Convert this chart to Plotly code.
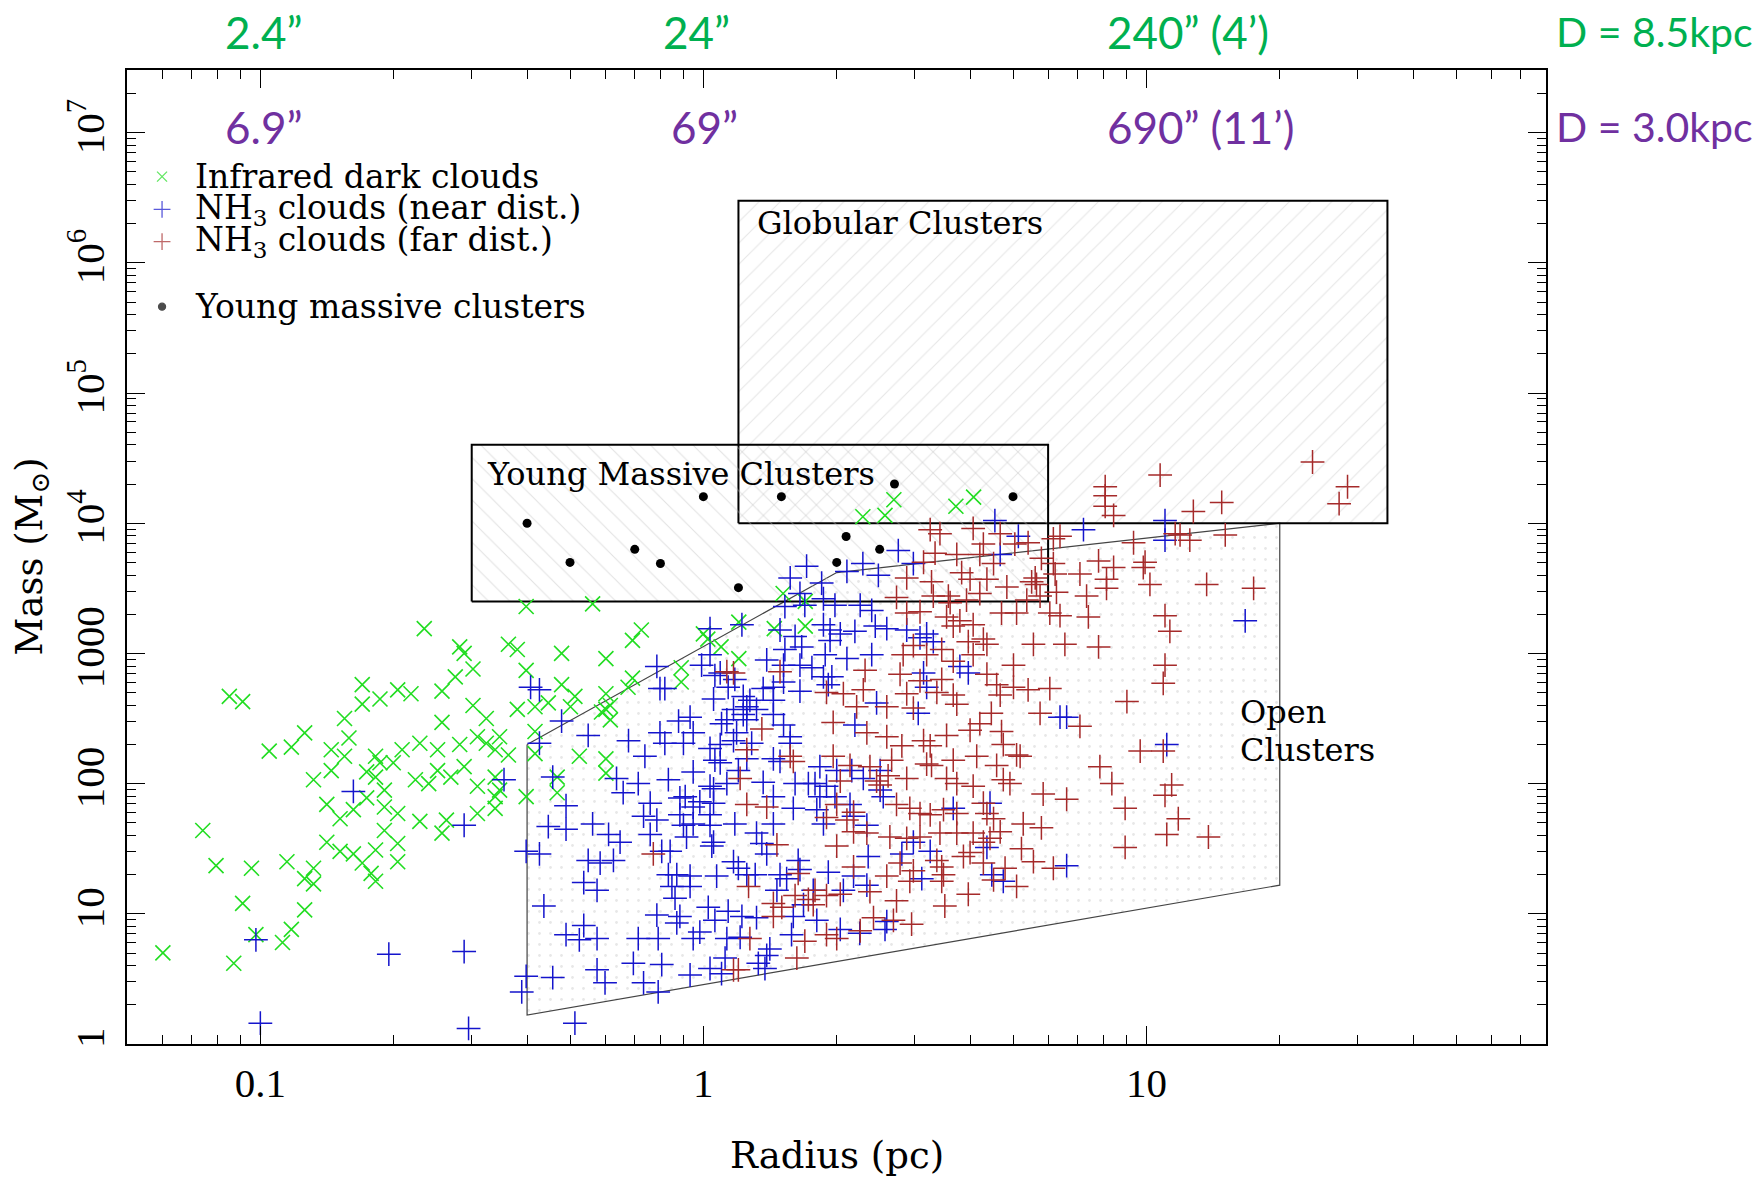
import numpy as np
import plotly.graph_objects as go

# ---------------- data (log10 radius [pc], log10 mass [Msun]) ----------------
irdc_log_radius = [
    -0.63, -0.55, -0.54, -0.44, -0.42, -0.32, -0.52, -0.56, -0.40, -0.77,
    -0.69, -0.66, -0.73, -0.59, -0.77, -0.52, -0.32, -0.42, -0.38, -0.35,
    -0.29, -0.30, -0.49, -0.59, -0.81, -0.80, -0.90, -0.98, -0.93, -0.84,
    -0.81, -0.88, -0.84, -0.74, -0.73, -0.70, -0.68, -0.64, -0.60, -0.55,
    -0.51, -0.49, -0.46, -0.47, -0.44, -0.38, -0.38, -0.28, -0.33, -0.76,
    -0.74, -0.72, -0.65, -0.62, -0.60, -0.57, -0.54, -0.51, -0.47, -0.46,
    -0.47, -0.40, -0.33, -0.85, -0.79, -0.76, -0.72, -0.69, -0.82, -0.64,
    -0.58, -0.59, -0.51, -0.47, -0.72, -0.69, -0.85, -0.82, -0.79, -0.77,
    -0.75, -0.74, -0.69, -0.74, -0.94, -0.88, -0.90, -0.88, -1.02, -1.10,
    -1.13, -1.07, -1.04, -1.04, -0.90, -0.93, -0.95, -1.01, -1.06, -1.22,
    -0.40, -0.25,
    -0.22, -0.16, -0.14, -0.22, -0.22, -0.21, -0.22, -0.22, -0.16, -0.17,
    -0.05, -0.05, 0.00, 0.01, 0.04, 0.08, 0.08, 0.18, 0.23, 0.23,
    0.16, -0.23, -0.21,
    0.43, 0.41, 0.36, 0.57, 0.61,
]
irdc_log_mass = [
    3.19, 3.05, 3.00, 3.07, 3.03, 3.00, 2.88, 2.82, 2.87, 2.76,
    2.72, 2.69, 2.65, 2.71, 2.61, 2.60, 2.76, 2.57, 2.59, 2.62,
    2.67, 2.59, 2.50, 2.47, 2.50, 2.35, 2.39, 2.25, 2.28, 2.26,
    2.21, 2.03, 2.10, 2.21, 2.16, 2.16, 2.26, 2.31, 2.26, 2.30,
    2.36, 2.31, 2.36, 2.26, 2.22, 2.40, 2.23, 2.21, 2.05, 2.09,
    2.05, 1.95, 2.03, 2.00, 2.10, 2.05, 2.13, 1.98, 2.05, 1.95,
    1.90, 1.90, 1.93, 1.84, 1.80, 1.89, 1.82, 1.77, 1.73, 1.71,
    1.72, 1.62, 1.77, 1.81, 1.64, 1.54, 1.55, 1.48, 1.46, 1.39,
    1.31, 1.25, 1.40, 1.49, 1.40, 1.35, 1.27, 1.23, 1.35, 1.37,
    1.64, 2.67, 2.63, 1.08, 1.03, 0.88, 0.78, 0.84, 0.62, 0.70,
    3.36, 3.38,
    2.96, 3.10, 3.18, 2.69, 2.57, 2.49, 2.19, 2.08, 2.81, 2.74,
    2.89, 2.78, 3.15, 3.11, 3.05, 3.24, 2.96, 3.46, 3.40, 3.21,
    3.19, 2.55, 2.60,
    4.18, 4.06, 4.05, 4.13, 4.20,
]

nh3_near_log_radius = [
    -0.79, -0.39, -0.37, -0.32, -0.26, -0.37, -0.45, -0.34, -0.54, -0.31,
    -0.35, -0.31, -0.25, -0.40, -0.37, -0.26, -0.27, -0.36, -0.31, -0.27,
    -0.28, -0.34, -0.40, -0.41, -0.29, -0.53, -1.00, -0.71, -0.54, -1.01,
    -0.24, -0.24, -0.24,
    0.233, 0.196, 0.267, 0.324, 0.360, 0.395, 0.440, 0.474, 0.218, 0.184,
    0.229, 0.271, 0.297, 0.354, 0.380, 0.271, 0.286, 0.309, 0.342, 0.388,
    0.414, 0.459, 0.504, 0.173, 0.087, 0.015, 0.207, 0.222, 0.286, 0.275,
    0.324, 0.380, 0.184, 0.143, -0.004, 0.015, 0.026, 0.038, 0.056, 0.071,
    0.181, 0.218, 0.245, 0.271, 0.290, 0.282, 0.181, 0.158, 0.135, 0.218,
    0.391, 0.497, 0.504, 0.485, 0.579, 0.598, 0.489, 0.519, -0.105, -0.098,
    -0.087, 0.023, 0.090, 0.105, 0.158, 0.068, 0.098, 0.120, 0.090, 0.158,
    -0.056, -0.030, 0.041, 0.053, 0.098, 0.181, 0.342, -0.098, -0.023, 0.075,
    0.196, -0.169, -0.087, -0.045, 0.015, 0.038, 0.109, 0.196, 0.068, -0.132,
    0.026, 0.038, 0.098, 0.158, 0.173, 0.263, -0.023, 0.079, 0.301, 0.335,
    0.399, -0.196, -0.147, -0.181, -0.079, 0.015, 0.023, 0.053, 0.135, 0.207,
    0.237, 0.252, 0.278, 0.361, -0.120, -0.053, -0.041, -0.008, 0.023, 0.158,
    0.263, 0.297, 0.406, 0.399, -0.135, -0.105, -0.053, -0.023, 0.015, 0.203,
    0.256, 0.331, 0.339, 0.564, -0.120, -0.045, -0.023, 0.015, 0.071, 0.158,
    0.271, 0.369, -0.188, -0.214, -0.038, 0.023, 0.120, 0.132, 0.474, -0.203,
    -0.094, -0.075, 0.019, 0.143, 0.372, 0.448, 0.512, -0.233, 0.068, 0.079,
    0.214, 0.218, -0.079, -0.060, -0.030, 0.030, 0.098, 0.117, 0.173, 0.188,
    0.282, 0.339, 0.493, -0.071, -0.030, 0.166, 0.248, 0.316, 0.369, -0.064,
    0.011, 0.226, -0.105, -0.053, -0.060, 0.026, 0.056, 0.087, 0.120, 0.203,
    0.256, 0.414, 0.410, -0.147, -0.102, -0.023, -0.008, 0.053, 0.083, 0.199,
    0.309, 0.150, 0.143, 0.049, -0.158, -0.094, -0.030, 0.015, 0.041, 0.124,
    0.139, -0.222, -0.135, -0.102,
    0.658, 0.711, 0.670, 0.858, 1.042, 1.042, 1.223, 0.805, 0.820, 1.046,
    0.647, 0.640, 0.820, 0.677, 0.651, 0.353,
]
nh3_near_log_mass = [
    1.94, 2.74, 2.72, 2.48, 2.37, 2.31, 2.03, 2.05, 1.68, 1.83,
    1.67, 1.65, 1.69, 1.48, 1.46, 1.41, 1.24, 1.06, 0.84, 0.91,
    0.80, 0.51, 0.52, 0.40, 0.16, 0.12, 0.16, 0.69, 0.71, 0.80,
    0.81, 0.57, 1.18,
    3.67, 3.58, 3.54, 3.63, 3.69, 3.60, 3.79, 3.69, 3.46, 3.36,
    3.37, 3.42, 3.37, 3.37, 3.33, 3.22, 3.18, 3.15, 3.17, 3.21,
    3.19, 3.18, 3.15, 3.18, 3.22, 3.19, 3.13, 3.05, 3.10, 2.99,
    2.96, 2.99, 3.03, 2.95, 2.91, 2.99, 2.83, 2.85, 2.74, 2.80,
    2.91, 2.91, 2.89, 2.82, 2.82, 2.76, 2.78, 2.74, 2.73, 2.71,
    2.62, 2.85, 2.74, 2.54, 2.90, 2.85, 3.12, 3.09, 2.90, 2.73,
    2.73, 2.65, 2.67, 2.64, 2.64, 2.57, 2.59, 2.57, 2.53, 2.53,
    2.48, 2.51, 2.46, 2.49, 2.49, 2.45, 2.45, 2.39, 2.39, 2.39,
    2.36, 2.33, 2.31, 2.31, 2.27, 2.30, 2.31, 2.31, 2.33, 2.21,
    2.18, 2.16, 2.19, 2.19, 2.17, 2.13, 2.09, 2.10, 2.10, 2.10,
    2.10, 2.04, 2.00, 1.93, 2.03, 1.98, 1.96, 2.00, 2.01, 2.00,
    2.00, 2.00, 1.98, 2.04, 1.85, 1.89, 1.90, 1.86, 1.85, 1.90,
    1.90, 1.90, 1.90, 1.95, 1.75, 1.72, 1.76, 1.82, 1.76, 1.81,
    1.80, 1.84, 1.75, 1.81, 1.61, 1.68, 1.69, 1.68, 1.69, 1.69,
    1.69, 1.68, 1.55, 1.61, 1.59, 1.55, 1.62, 1.54, 1.55, 1.41,
    1.48, 1.48, 1.52, 1.46, 1.44, 1.46, 1.48, 1.39, 1.40, 1.35,
    1.41, 1.34, 1.30, 1.30, 1.29, 1.29, 1.30, 1.30, 1.30, 1.27,
    1.32, 1.29, 1.27, 1.21, 1.21, 1.18, 1.18, 1.18, 1.22, 1.12,
    1.05, 1.07, 0.99, 0.98, 0.93, 0.95, 1.02, 0.98, 0.97, 0.98,
    0.95, 0.94, 0.88, 0.81, 0.81, 0.81, 0.86, 0.81, 0.82, 0.84,
    0.88, 0.73, 0.68, 0.66, 0.62, 0.61, 0.53, 0.58, 0.54, 0.62,
    0.58, 0.47, 0.47, 0.40,
    4.02, 3.90, 3.76, 3.95, 4.02, 3.87, 3.25, 2.51, 2.51, 2.30,
    1.85, 1.51, 1.37, 1.25, 1.30, 0.85,
]

nh3_far_log_radius = [
    0.053, 0.068, 0.173, 0.132, 0.098, 0.083, 0.196, 0.203, 0.098, 0.143,
    0.166, -0.113, 0.102, 0.158, 0.158, 0.177, 0.207, 0.248, 0.105, 0.068,
    0.079, 0.211, 0.229, 0.214, 0.237, 0.252,
    0.907, 0.907, 0.907, 0.926, 1.031, 1.106, 1.170, 1.375, 1.454, 1.435,
    0.512, 0.534, 0.609, 0.670, 0.632, 0.703, 0.733, 0.790, 0.805, 0.971, 1.065, 1.076, 1.098, 1.178,
    0.523, 0.572, 0.624, 0.655, 0.763, 0.790, 0.892, 0.926, 0.997, 0.993, 0.497,
    0.459, 0.515, 0.583, 0.602, 0.640, 0.685, 0.741, 0.752, 0.749, 0.794, 0.850, 0.910, 0.910, 1.008, 1.136, 1.242,
    0.436, 0.519, 0.553, 0.557, 0.594, 0.624, 0.730, 0.760, 0.797, 0.865,
    0.459, 0.489, 0.549, 0.579, 0.609, 0.673, 0.707, 0.782, 0.805, 0.869, 1.042, 1.053, 0.564,
    0.632, 0.640, 0.598, 0.745, 0.816, 0.892, 0.474, 0.538, 0.451, 0.504, 0.609,
    0.700, 0.365, 0.444, 0.489, 0.538, 0.640, 0.662, 0.700, 0.733, 0.782, 1.042, 1.038, 0.564,
    0.278, 0.316, 0.361, 0.459, 0.527, 0.564, 0.572, 0.650, 0.670, 0.956, 0.346, 0.414, 0.474, 0.760, 0.850, 0.624, 0.602,
    0.293, 0.369, 0.414, 0.448, 0.497, 0.512, 0.549, 0.673, 0.677, 0.707, 0.715, 0.986, 1.038,
    0.293, 0.331, 0.376, 0.425, 0.459, 0.391, 0.417, 0.504, 0.515, 0.564, 0.617, 0.662, 0.895,
    0.309, 0.399, 0.549, 0.572, 0.609, 0.677, 0.692, 0.767, 0.820, 0.922, 1.057, 1.042, 0.632,
    0.301, 0.339, 0.436, 0.466, 0.489, 0.512, 0.542, 0.572, 0.640, 0.655, 0.722, 0.763, 0.952, 1.072, 0.278, 0.324, 0.670, 1.046, 1.140,
    0.301, 0.339, 0.369, 0.421, 0.459, 0.489, 0.534, 0.572, 0.609, 0.647, 0.632, 0.718, 0.952, 0.602,
    0.339, 0.414, 0.444, 0.474, 0.527, 0.538, 0.587, 0.632, 0.681, 0.745, 0.790, 0.707, 0.655,
    0.542, 0.538, 0.466, 0.278, 0.309, 0.376, 0.436, 0.598, 0.545,
    0.384, 0.429, 0.470, 0.278, 0.301, 0.354,
]
nh3_far_log_mass = [
    2.86, 2.85, 2.86, 2.42, 2.26, 2.04, 2.21, 2.17, 1.84, 1.82,
    1.53, 1.46, 1.21, 1.08, 0.98, 1.05, 1.14, 1.07, 0.81, 0.57,
    0.57, 0.66, 0.79, 1.31, 1.11, 1.18,
    4.28, 4.21, 4.13, 4.06, 4.37, 4.09, 4.16, 4.47, 4.28, 4.15,
    3.95, 3.92, 3.96, 3.92, 3.84, 3.84, 3.85, 3.88, 3.90, 3.85, 3.92, 3.91, 3.87, 3.91,
    3.77, 3.76, 3.76, 3.69, 3.73, 3.69, 3.71, 3.66, 3.70, 3.66, 3.70,
    3.58, 3.55, 3.62, 3.57, 3.57, 3.51, 3.55, 3.53, 3.58, 3.61, 3.61, 3.57, 3.50, 3.53, 3.53, 3.50,
    3.43, 3.44, 3.44, 3.39, 3.41, 3.46, 3.41, 3.44, 3.47, 3.44,
    3.31, 3.32, 3.28, 3.25, 3.22, 3.31, 3.31, 3.31, 3.29, 3.28, 3.29, 3.17, 3.21,
    3.11, 3.07, 3.09, 3.07, 3.07, 3.05, 3.06, 3.03, 2.99, 2.99, 2.99,
    2.91, 2.87, 2.84, 2.79, 2.80, 2.84, 2.76, 2.74, 2.72, 2.73, 2.91, 2.77, 2.94,
    2.70, 2.69, 2.72, 2.69, 2.70, 2.68, 2.61, 2.54, 2.68, 2.63, 2.59, 2.59, 2.58, 2.54, 2.44, 2.46, 2.41,
    2.47, 2.39, 2.36, 2.29, 2.33, 2.29, 2.37, 2.40, 2.30, 2.22, 2.21, 2.25, 2.25,
    2.21, 2.14, 2.13, 2.18, 2.04, 2.02, 2.06, 2.15, 2.14, 2.18, 2.21, 2.14, 2.13,
    2.02, 1.99, 2.04, 2.00, 1.98, 2.03, 2.00, 1.92, 1.88, 2.00, 1.99, 1.91, 1.85,
    1.84, 1.78, 1.84, 1.81, 1.77, 1.76, 1.80, 1.77, 1.77, 1.73, 1.69, 1.66, 1.81, 1.73, 1.74, 1.72, 1.63, 1.61, 1.59,
    1.52, 1.63, 1.62, 1.59, 1.58, 1.59, 1.62, 1.62, 1.62, 1.58, 1.55, 1.50, 1.51, 1.47,
    1.36, 1.29, 1.39, 1.33, 1.41, 1.36, 1.44, 1.39, 1.35, 1.40, 1.35, 1.21, 1.26,
    1.30, 1.25, 1.25, 1.14, 1.15, 1.17, 1.10, 1.15, 1.06,
    0.97, 0.95, 0.92, 0.84, 0.81, 0.87,
]

ymc_radius = [0.40, 0.50, 0.70, 0.80, 1.0, 1.2, 1.5, 2.1, 2.0, 2.5, 2.7, 5.0]
ymc_mass = [1.0e4, 5.0e3, 6.3e3, 4.9e3, 1.6e4, 3.2e3, 1.6e4, 7.9e3, 5.0e3, 6.3e3, 2.0e4, 1.6e4]

# region outlines (radius pc, mass Msun)
globular_radius = [1.2, 35, 35, 1.2, 1.2]
globular_mass = [1e4, 1e4, 3e6, 3e6, 1e4]
ymc_box_radius = [0.3, 6, 6, 0.3, 0.3]
ymc_box_mass = [2500, 2500, 4e4, 4e4, 2500]
open_radius = [0.4, 0.4, 20, 20, 2.0, 0.4]
open_mass = [200, 1.67, 16.6, 1e4, 4180, 200]

x_tick_vals = [0.1, 1, 10]
x_tick_text = ["0.1", "1", "10"]
y_tick_vals = [1, 10, 100, 1000, 1e4, 1e5, 1e6, 1e7]
y_tick_text = ["1", "10", "100", "1000", "10<sup>4</sup>", "10<sup>5</sup>",
               "10<sup>6</sup>", "10<sup>7</sup>"]
x_minor = [m * d for d in (0.01, 0.1, 1, 10) for m in range(2, 10)]
y_minor = [m * d for d in (1, 10, 100, 1e3, 1e4, 1e5, 1e6, 1e7) for m in range(2, 10)]

GREEN = "#22dd22"
BLUE = "#1414cc"
RED = "#a52a2a"
SERIF = "DejaVu Serif"

fig = go.Figure()

# regions
fig.add_trace(go.Scatter(
    x=open_radius, y=open_mass, mode="lines", fill="toself",
    fillcolor="rgba(0,0,0,0)", line=dict(color="#444444", width=1.2),
    fillpattern=dict(shape=".", fgcolor="#cfcfcf", bgcolor="rgba(0,0,0,0)",
                     size=11, solidity=0.05),
    hoverinfo="skip"))
fig.add_trace(go.Scatter(
    x=globular_radius, y=globular_mass, mode="lines", fill="toself",
    fillcolor="rgba(0,0,0,0)", line=dict(color="black", width=2),
    fillpattern=dict(shape="/", fgcolor="#cdcdcd", bgcolor="rgba(0,0,0,0)",
                     size=15, solidity=0.07),
    hoverinfo="skip"))
fig.add_trace(go.Scatter(
    x=ymc_box_radius, y=ymc_box_mass, mode="lines", fill="toself",
    fillcolor="rgba(0,0,0,0)", line=dict(color="black", width=2),
    fillpattern=dict(shape="\\", fgcolor="#c4c4c4", bgcolor="rgba(0,0,0,0)",
                     size=15, solidity=0.07),
    hoverinfo="skip"))

# data points
fig.add_trace(go.Scatter(
    x=10 ** np.array(irdc_log_radius), y=10 ** np.array(irdc_log_mass),
    mode="markers", name="Infrared dark clouds",
    marker=dict(symbol="x-thin", size=15, line=dict(color=GREEN, width=1.6))))
fig.add_trace(go.Scatter(
    x=10 ** np.array(nh3_near_log_radius), y=10 ** np.array(nh3_near_log_mass),
    mode="markers", name="NH3 clouds (near dist.)",
    marker=dict(symbol="cross-thin", size=17, line=dict(color=BLUE, width=1.5))))
fig.add_trace(go.Scatter(
    x=10 ** np.array(nh3_far_log_radius), y=10 ** np.array(nh3_far_log_mass),
    mode="markers", name="NH3 clouds (far dist.)",
    marker=dict(symbol="cross-thin", size=17, line=dict(color=RED, width=1.5))))
fig.add_trace(go.Scatter(
    x=ymc_radius, y=ymc_mass, mode="markers", name="Young massive clusters",
    marker=dict(symbol="circle", size=9, color="black")))

# legend keys on an overlay (paper-like) axis pair
leg_y = [0.8905, 0.857, 0.8237, 0.757]
leg_labels = ["Infrared dark clouds", "NH<sub>3</sub> clouds (near dist.)",
              "NH<sub>3</sub> clouds (far dist.)", "Young massive clusters"]
fig.add_trace(go.Scatter(
    x=[0.0247] * 4, y=leg_y, xaxis="x2", yaxis="y2", mode="markers",
    cliponaxis=False, hoverinfo="skip",
    marker=dict(symbol=["x-thin", "cross-thin", "cross-thin", "circle"],
                size=[10, 12, 12, 7],
                color=[GREEN, BLUE, RED, "black"],
                line=dict(color=[GREEN, BLUE, RED, "black"], width=1.3))))

annotations = []
for yy, lab in zip(leg_y, leg_labels):
    annotations.append(dict(x=0.0465, y=yy, xref="paper", yref="paper", text=lab,
                            showarrow=False, xanchor="left", yanchor="middle",
                            font=dict(family=SERIF, size=33, color="black")))

# region labels
for txt, xx, yy in [("Globular Clusters", 0.4426, 0.8434),
                    ("Young Massive Clusters", 0.2526, 0.585),
                    ("Open", 0.7832, 0.341),
                    ("Clusters", 0.7832, 0.302)]:
    annotations.append(dict(x=xx, y=yy, xref="paper", yref="paper", text=txt,
                            showarrow=False, xanchor="left", yanchor="middle",
                            font=dict(family=SERIF, size=32, color="black")))

# angular size labels
TOPFONT = "Lato"
for txt, xx, anc, col, yy, sz in [
        ("2.4\u201d", 0.0965, "center", "#00B050", 1.0395, 44),
        ("24\u201d", 0.401, "center", "#00B050", 1.0395, 44),
        ("240\u201d (4\u2019)", 0.689, "left", "#00B050", 1.0395, 44),
        ("D = 8.5kpc", 1.0056, "left", "#00B050", 1.0395, 41),
        ("6.9\u201d", 0.0962, "center", "#7030A0", 0.9415, 44),
        ("69\u201d", 0.407, "center", "#7030A0", 0.9415, 44),
        ("690\u201d (11\u2019)", 0.689, "left", "#7030A0", 0.9415, 44),
        ("D = 3.0kpc", 1.0056, "left", "#7030A0", 0.9415, 41)]:
    annotations.append(dict(x=xx, y=yy, xref="paper", yref="paper", text=txt,
                            showarrow=False, xanchor=anc, yanchor="middle",
                            font=dict(family=TOPFONT, size=sz, color=col)))

# axis titles
annotations.append(dict(x=0.5, y=-0.114, xref="paper", yref="paper",
                        text="Radius (pc)", showarrow=False,
                        xanchor="center", yanchor="middle",
                        font=dict(family=SERIF, size=37, color="black")))
annotations.append(dict(x=-0.0673, y=0.5, xref="paper", yref="paper",
                        text="Mass (M<sub>\u2299</sub>)", showarrow=False,
                        textangle=-90, xanchor="center", yanchor="middle",
                        font=dict(family=SERIF, size=37, color="black")))

axis_common = dict(
    type="log", tickmode="array", ticks="inside", ticklen=18, tickwidth=1.3,
    tickcolor="black", showline=True, linecolor="black", linewidth=2,
    mirror="ticks", showgrid=False, zeroline=False,
    tickfont=dict(family="Liberation Serif", size=41, color="black"),
)

fig.update_layout(
    width=1762, height=1181,
    margin=dict(l=127, r=216, t=70, b=137),
    paper_bgcolor="white", plot_bgcolor="white",
    showlegend=False,
    xaxis=dict(range=[-1.301, 1.902], tickvals=x_tick_vals, ticktext=x_tick_text,
               ticklabelstandoff=2,
               minor=dict(tickvals=x_minor, ticks="inside", ticklen=9,
                          tickwidth=1.3, tickcolor="black", showgrid=False),
               **axis_common),
    yaxis=dict(range=[0, 7.481], tickvals=y_tick_vals, ticktext=y_tick_text,
               tickangle=-90, ticklabelstandoff=5,
               minor=dict(tickvals=y_minor, ticks="inside", ticklen=9,
                          tickwidth=1.3, tickcolor="black", showgrid=False),
               **axis_common),
    xaxis2=dict(range=[0, 1], overlaying="x", anchor="y2", visible=False),
    yaxis2=dict(range=[0, 1], overlaying="y", anchor="x2", visible=False),
    annotations=annotations,
)

fig.write_html("out.html")
